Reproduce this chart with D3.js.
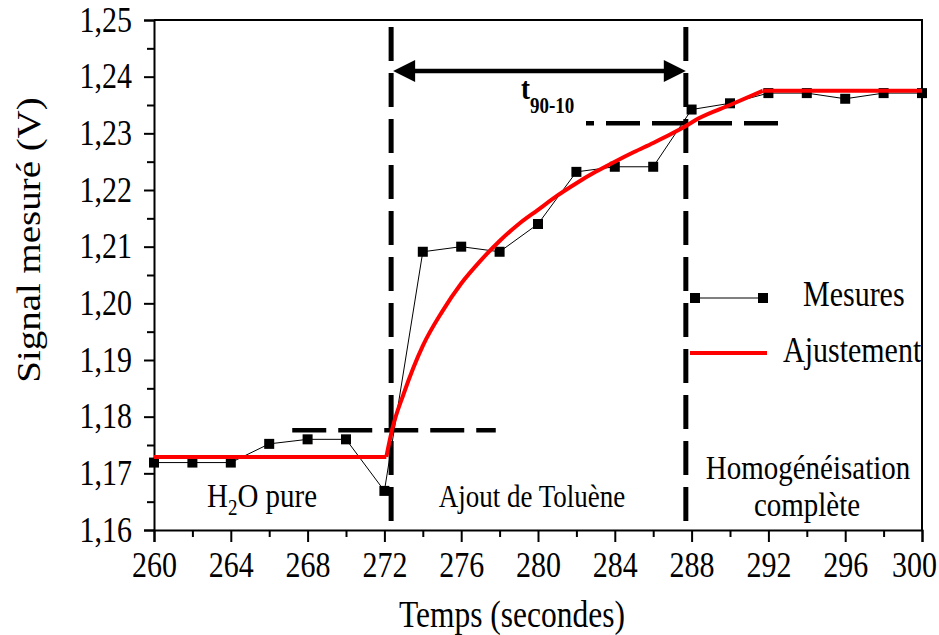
<!DOCTYPE html>
<html>
<head>
<meta charset="utf-8">
<script src="https://cdn.jsdelivr.net/npm/d3@7"></script>
<style>
  html, body { margin: 0; padding: 0; background: #fff; }
  svg { display: block; }
</style>
</head>
<body>
<svg id="chart" width="939" height="635"></svg>
<script>
// ---- data ----
const timeS = [260, 262, 264, 266, 268, 270, 272, 274, 276, 278, 280, 282, 284, 286, 288, 290, 292, 294, 296, 298, 300];
const signal = [1.1719, 1.1719, 1.1719, 1.1752, 1.1760, 1.1760, 1.1669, 1.2091, 1.2100, 1.2091, 1.2140, 1.2232, 1.2241, 1.2241, 1.2342, 1.2353, 1.2371, 1.2371, 1.2361, 1.2371, 1.2371];
const fitT = [260, 272.1, 272.4, 273.0, 274.0, 275.0, 276.0, 277.0, 278.0, 279.0, 280.0, 281.0, 282.0, 283.0, 284.0, 285.0, 286.0, 287.0, 287.7, 288.4, 290.0, 291.7, 300];
const fitV = [1.1729, 1.1729, 1.1777, 1.1840, 1.1925, 1.1985, 1.2035, 1.2075, 1.2110, 1.2140, 1.2165, 1.2190, 1.2212, 1.2232, 1.2250, 1.2267, 1.2283, 1.2300, 1.2313, 1.2327, 1.2350, 1.2375, 1.2375];
const xMajorTicks = [260, 264, 268, 272, 276, 280, 284, 288, 292, 296, 300];
const yMajorTicks = [1.16, 1.17, 1.18, 1.19, 1.20, 1.21, 1.22, 1.23, 1.24, 1.25];
const tStart = 272.35, tEnd = 287.7;     // vertical dashed markers
const level10 = 1.1776, level90 = 1.2318; // horizontal dashed levels
const seriesNames = ["Mesures", "Ajustement"];

// ---- layout ----
const FONT = "Liberation Serif";
const K = 1.18; // vertical glyph stretch seen in the reference
const svg = d3.select("#chart");
const x = d3.scaleLinear().domain([260, 300]).range([154, 922]);
const y = d3.scaleLinear().domain([1.16, 1.25]).range([530, 20]);

const xMinor = d3.range(260, 301, 2).filter(v => v % 4 !== 0);
const yMinor = d3.range(0, 9).map(i => +(1.165 + i * 0.01).toFixed(3));

// frame (top and right)
svg.append("path")
  .attr("d", `M${x(260)},${y(1.25)}H${x(300)}V${y(1.16)}`)
  .attr("fill", "none").attr("stroke", "#000").attr("stroke-width", 2);

// x axis
const gx = svg.append("g").attr("transform", `translate(0,${y(1.16)})`);
gx.call(d3.axisBottom(x).tickValues(xMajorTicks).tickFormat(d3.format("d")).tickSize(12).tickPadding(10));
const gxm = svg.append("g").attr("transform", `translate(0,${y(1.16)})`);
gxm.call(d3.axisBottom(x).tickValues(xMinor).tickFormat("").tickSize(7));
gxm.select(".domain").remove();
// last label nudged inside the picture, as in the reference
gx.selectAll(".tick text").filter(d => d === 300).attr("dx", -8);

// y axis
const fmtY = d => d.toFixed(2).replace(".", ",");
const gy = svg.append("g").attr("transform", `translate(${x(260)},0)`);
gy.call(d3.axisLeft(y).tickValues(yMajorTicks).tickFormat(fmtY).tickSize(10).tickPadding(12));
const gym = svg.append("g").attr("transform", `translate(${x(260)},0)`);
gym.call(d3.axisLeft(y).tickValues(yMinor).tickFormat("").tickSize(7));
gym.select(".domain").remove();

svg.selectAll(".domain, .tick line").attr("stroke", "#000").attr("stroke-width", 2);
svg.selectAll(".tick text").style("font-size", "30px").attr("fill", "#000");

// axis titles
svg.append("text").attr("x", 512).attr("y", 627).attr("text-anchor", "middle")
  .style("font-size", "31.5px").text("Temps (secondes)");
svg.append("text").attr("class", "rot").attr("x", 40).attr("y", 240).attr("text-anchor", "middle")
  .style("font-size", "33px").text("Signal mesuré (V)");

// dashed guide lines
const dash = "34,12";
[tStart, tEnd].forEach(t => {
  svg.append("line").attr("x1", x(t)).attr("x2", x(t)).attr("y1", 27).attr("y2", y(1.16))
    .attr("stroke", "#000").attr("stroke-width", 5).attr("stroke-dasharray", dash);
});
svg.append("line").attr("x1", x(267.2)).attr("x2", x(277.8)).attr("y1", y(level10)).attr("y2", y(level10))
  .attr("stroke", "#000").attr("stroke-width", 4.5).attr("stroke-dasharray", dash);
svg.append("line").attr("x1", x(292.5)).attr("x2", x(282.5)).attr("y1", y(level90)).attr("y2", y(level90))
  .attr("stroke", "#000").attr("stroke-width", 4.5).attr("stroke-dasharray", dash);

// double arrow
const ay = 71;
const ax1 = x(tStart) + 2, ax2 = x(tEnd);
svg.append("line").attr("x1", ax1 + 18).attr("x2", ax2 - 18).attr("y1", ay).attr("y2", ay)
  .attr("stroke", "#000").attr("stroke-width", 4.5);
svg.append("path").attr("d", `M${ax1},${ay}L${ax1 + 22},${ay - 11}L${ax1 + 22},${ay + 11}Z`).attr("fill", "#000");
svg.append("path").attr("d", `M${ax2},${ay}L${ax2 - 22},${ay - 11}L${ax2 - 22},${ay + 11}Z`).attr("fill", "#000");

// t90-10 label
const tl = svg.append("text").attr("x", 521).attr("y", 99).style("font-weight", "bold");
tl.append("tspan").style("font-size", "27px").text("t");
tl.append("tspan").attr("dy", 12).style("font-size", "19px").text("90-10");

// measurements
const pts = timeS.map((t, i) => [t, signal[i]]);
svg.append("path").datum(pts)
  .attr("d", d3.line().x(d => x(d[0])).y(d => y(d[1])))
  .attr("fill", "none").attr("stroke", "#000").attr("stroke-width", 1);
svg.append("g").selectAll("rect").data(pts).join("rect")
  .attr("x", d => x(d[0]) - 5).attr("y", d => y(d[1]) - 5)
  .attr("width", 10).attr("height", 10).attr("fill", "#000");

// fit: flat, rise, flat
const fit = fitT.map((t, i) => [t, fitV[i]]);
const iRise0 = 1, iRise1 = fit.length - 2;
const lineLin = d3.line().x(d => x(d[0])).y(d => y(d[1]));
const lineSmooth = d3.line().x(d => x(d[0])).y(d => y(d[1])).curve(d3.curveMonotoneX);
const fitG = svg.append("g").attr("fill", "none").attr("stroke", "#ff0000").attr("stroke-width", 4).attr("stroke-linejoin", "round");
fitG.append("path").attr("d", lineLin(fit.slice(0, iRise0 + 1)));
fitG.append("path").attr("d", lineSmooth(fit.slice(iRise0, iRise1 + 1)));
fitG.append("path").attr("d", lineLin(fit.slice(iRise1)));

// region labels
const h2o = svg.append("text").attr("x", 207).attr("y", 507).style("font-size", "29px");
h2o.append("tspan").text("H");
h2o.append("tspan").attr("dy", 7).style("font-size", "19px").text("2");
h2o.append("tspan").attr("dy", -7).text("O pure");
svg.append("text").attr("x", 532).attr("y", 507).attr("text-anchor", "middle").style("font-size", "27px").text("Ajout de Toluène");
svg.append("text").attr("x", 808).attr("y", 479).attr("text-anchor", "middle").style("font-size", "29px").text("Homogénéisation");
svg.append("text").attr("x", 807).attr("y", 516).attr("text-anchor", "middle").style("font-size", "29px").text("complète");

// legend
const lg = svg.append("g");
lg.append("line").attr("x1", 695).attr("x2", 763).attr("y1", 298).attr("y2", 298).attr("stroke", "#000").attr("stroke-width", 1);
[695, 763].forEach(px => lg.append("rect").attr("x", px - 5).attr("y", 293).attr("width", 10).attr("height", 10).attr("fill", "#000"));
lg.append("text").attr("x", 803).attr("y", 306).style("font-size", "30px").text(seriesNames[0]);
lg.append("line").attr("x1", 690).attr("x2", 767).attr("y1", 353).attr("y2", 353).attr("stroke", "#ff0000").attr("stroke-width", 4);
lg.append("text").attr("x", 783).attr("y", 362).style("font-size", "30px").text(seriesNames[1]);

// font + vertical stretch for all texts
svg.selectAll("text").each(function () {
  const t = d3.select(this);
  const tx = +t.attr("x") || 0, ty = +t.attr("y") || 0;
  const rot = t.classed("rot") ? " rotate(-90)" : "";
  t.attr("x", 0).attr("y", 0)
   .attr("transform", `translate(${tx},${ty}) scale(1,${K})${rot}`)
   .style("font-family", FONT).attr("fill", "#000");
});
svg.selectAll("tspan").style("font-family", FONT);
</script>
</body>
</html>
